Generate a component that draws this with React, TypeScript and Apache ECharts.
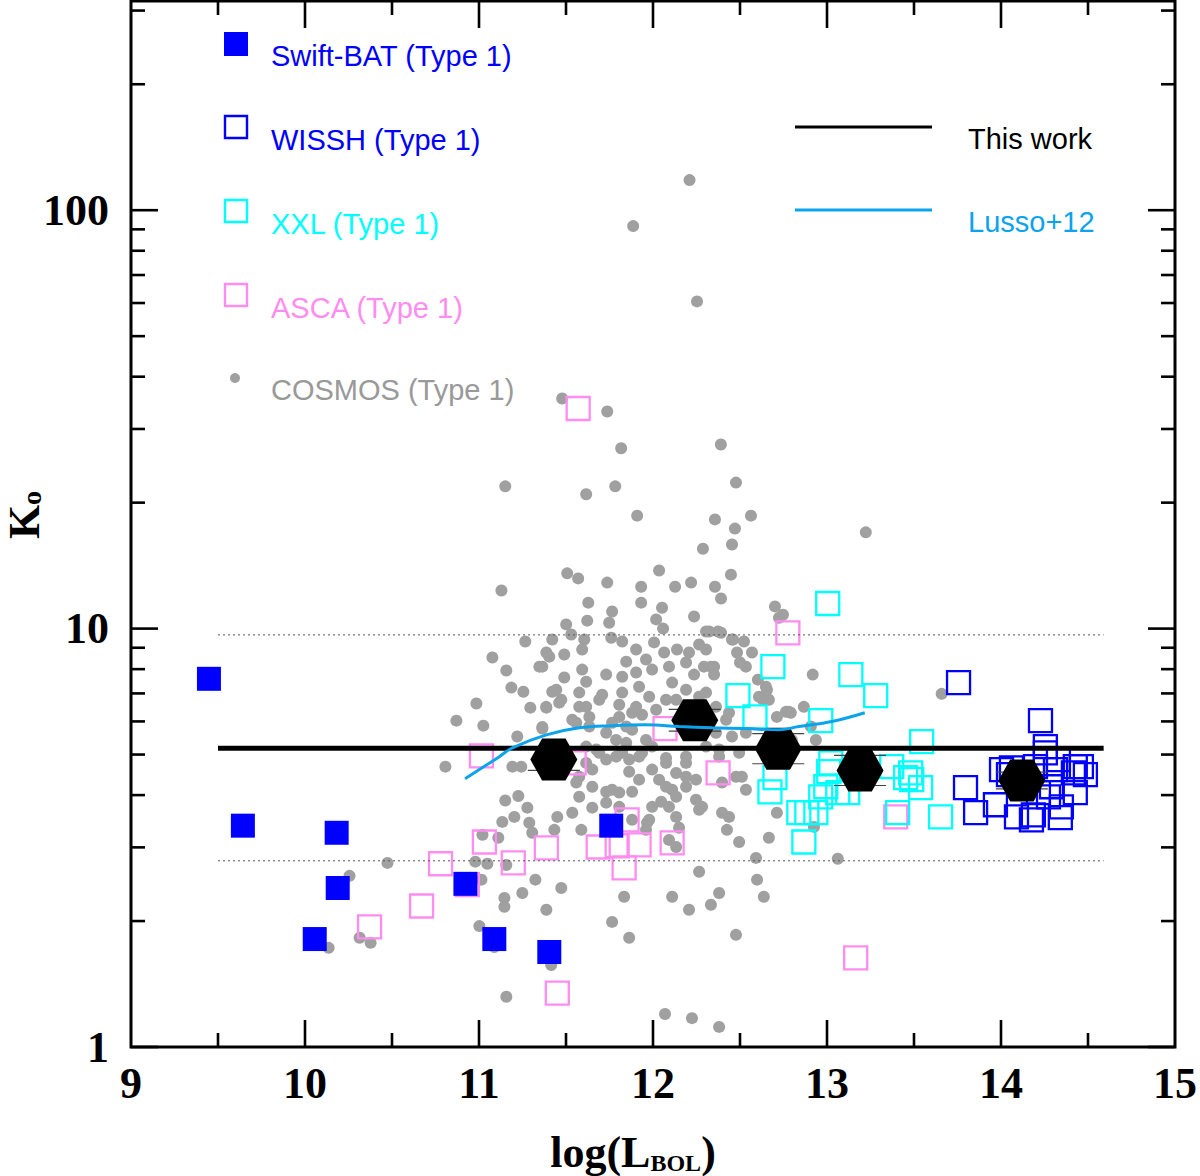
import { useEffect, useRef } from "react";
import * as echarts from "echarts";

// y values are log10(K_o); the axis labels show K_o itself
const X_MIN = 9;
const X_MAX = 15;
const Y_MIN = 0;
const Y_MAX = 2.5;

const xMajorTicks = [10, 11, 12, 13, 14];
const xMinorTicks = [9.5, 10.5, 11.5, 12.5, 13.5, 14.5];
const yMajorTicks = [1, 10, 100];
const yMinorTicks = [2, 3, 4, 5, 6, 7, 8, 9, 20, 30, 40, 50, 60, 70, 80, 90, 200, 300];

// [log L_BOL, log K_o]
const swiftBat = [
  [9.448, 0.88], [9.643, 0.529], [10.182, 0.512], [10.188, 0.38], [10.056, 0.258],
  [10.922, 0.39], [11.088, 0.258], [11.404, 0.227], [11.76, 0.529],
];

const wissh = [
  [13.756, 0.871], [14.227, 0.78], [14.255, 0.718], [14.06, 0.667], [14.043, 0.651],
  [14.198, 0.67], [14.33, 0.687], [14.462, 0.67], [14.485, 0.651], [14.416, 0.655],
  [13.796, 0.62], [13.854, 0.56], [13.968, 0.579], [14.089, 0.55], [14.186, 0.555],
  [14.341, 0.548], [14.273, 0.598], [14.427, 0.608], [14.29, 0.622], [14.215, 0.608],
  [14.347, 0.574], [14.175, 0.543], [14.255, 0.703], [14.427, 0.67], [14.003, 0.663],
  [14.313, 0.663],
];

const xxl = [
  [13.004, 1.06], [12.689, 0.909], [13.137, 0.89], [13.28, 0.84], [12.488, 0.84],
  [12.586, 0.789], [12.964, 0.78], [13.544, 0.73], [13.022, 0.679], [13.372, 0.67],
  [13.481, 0.655], [13.487, 0.639], [13.538, 0.62], [13.452, 0.644], [12.701, 0.644],
  [12.672, 0.61], [12.964, 0.598], [13.062, 0.608], [13.119, 0.608], [12.993, 0.622],
  [12.838, 0.56], [12.884, 0.56], [12.936, 0.56], [12.867, 0.49], [13.406, 0.56],
  [13.653, 0.55], [13.01, 0.658],
];

const asca = [
  [11.57, 1.526], [12.775, 0.99], [11.014, 0.696], [12.069, 0.761], [11.547, 0.679],
  [12.374, 0.655], [13.395, 0.55], [13.165, 0.213], [11.45, 0.129], [10.371, 0.287],
  [10.67, 0.337], [10.779, 0.438], [11.031, 0.49], [11.197, 0.44], [11.387, 0.476],
  [11.685, 0.478], [11.851, 0.543], [11.794, 0.481], [11.92, 0.483], [12.11, 0.488],
  [11.834, 0.428], [10.933, 0.388],
];

const cosmos = [
  [12.21, 2.072], [11.886, 1.962], [12.253, 1.782], [11.478, 1.55], [11.737, 1.519],
  [11.817, 1.431], [12.39, 1.44], [11.151, 1.34], [11.616, 1.321], [11.783, 1.34],
  [12.477, 1.349], [11.909, 1.27], [12.356, 1.261], [12.563, 1.27], [12.471, 1.239],
  [12.287, 1.191], [12.454, 1.201], [13.223, 1.23], [11.129, 1.091], [11.507, 1.132],
  [11.57, 1.12], [11.737, 1.11], [12.035, 1.139], [11.932, 1.1], [12.127, 1.1],
  [12.219, 1.11], [12.356, 1.1], [12.448, 1.129], [12.391, 1.072], [11.628, 1.062],
  [11.765, 1.041], [11.932, 1.062], [12.052, 1.05], [12.236, 1.029], [11.622, 1.019],
  [11.501, 1.01], [11.748, 1.014], [12.018, 1.022], [12.058, 1.0], [12.701, 1.053],
  [12.724, 1.026], [11.421, 0.974], [11.53, 0.986], [11.605, 0.974], [11.76, 0.978],
  [11.823, 0.969], [12.323, 0.993], [12.391, 0.99], [12.454, 0.974], [12.523, 0.969],
  [11.404, 0.933], [11.49, 0.938], [11.593, 0.95], [11.903, 0.95], [12.006, 0.967],
  [12.064, 0.943], [12.138, 0.95], [12.207, 0.943], [12.265, 0.962], [12.483, 0.943],
  [12.569, 0.943], [11.846, 0.921], [11.96, 0.926], [12.19, 0.919], [12.293, 0.909],
  [12.351, 0.909], [12.534, 0.909], [11.593, 0.902], [11.364, 0.909], [11.49, 0.883],
  [11.731, 0.89], [11.823, 0.885], [11.903, 0.895], [11.995, 0.902], [12.092, 0.909],
  [12.236, 0.89], [11.616, 0.873], [12.11, 0.871], [11.92, 0.861], [11.421, 0.849],
  [11.576, 0.847], [11.708, 0.842], [11.823, 0.847], [11.978, 0.837], [12.265, 0.837],
  [12.649, 0.861], [12.666, 0.83], [11.386, 0.813], [11.473, 0.83], [11.576, 0.813],
  [11.806, 0.818], [11.903, 0.813], [12.075, 0.83], [12.362, 0.813], [11.634, 0.789],
  [11.806, 0.789], [11.937, 0.794], [12.42, 0.782], [12.781, 0.801], [11.364, 0.765],
  [11.559, 0.775], [11.731, 0.751], [11.88, 0.758], [11.96, 0.734], [12.454, 0.742],
  [12.534, 0.751], [12.683, 0.734], [12.798, 0.734], [11.674, 0.711], [11.823, 0.703],
  [11.731, 0.687], [11.92, 0.694], [12.075, 0.691], [12.19, 0.679], [12.38, 0.694],
  [12.495, 0.703], [11.651, 0.663], [11.863, 0.658], [11.995, 0.663], [12.133, 0.655],
  [12.477, 0.646], [11.559, 0.632], [11.651, 0.622], [11.731, 0.61], [11.806, 0.608],
  [11.88, 0.61], [12.075, 0.622], [12.19, 0.622], [12.247, 0.639], [11.576, 0.598],
  [12.047, 0.586], [12.133, 0.598], [12.247, 0.591], [11.651, 0.572], [12.265, 0.567],
  [11.536, 0.56], [11.45, 0.55], [12.133, 0.55], [11.978, 0.543], [11.88, 0.543],
  [12.437, 0.55], [12.425, 0.519], [12.712, 0.56], [11.433, 0.519], [11.588, 0.519],
  [11.96, 0.519], [12.15, 0.524], [12.495, 0.49], [12.666, 0.5], [12.133, 0.478],
  [12.092, 0.495], [12.592, 0.452], [12.265, 0.419], [12.598, 0.4], [11.473, 0.38],
  [11.834, 0.359], [12.11, 0.359], [12.38, 0.368], [12.637, 0.359], [11.387, 0.328],
  [12.207, 0.328], [12.333, 0.34], [11.765, 0.299], [11.863, 0.261], [12.477, 0.268],
  [12.069, 0.079], [12.224, 0.069], [12.38, 0.048], [11.157, 0.12], [13.062, 0.45],
  [11.415, 0.196], [11.002, 0.289], [10.136, 0.237], [10.314, 0.261], [10.377, 0.249],
  [10.256, 0.409], [10.474, 0.44], [11.146, 0.356], [11.146, 0.335], [11.249, 0.368],
  [11.324, 0.4], [11.266, 0.969], [11.077, 0.931], [11.157, 0.9], [11.347, 0.909],
  [11.387, 0.943], [11.186, 0.859], [11.255, 0.849], [10.985, 0.821], [11.295, 0.811],
  [11.387, 0.811], [10.87, 0.78], [11.025, 0.768], [11.364, 0.761], [11.22, 0.742],
  [10.807, 0.67], [11.192, 0.67], [11.243, 0.67], [11.151, 0.589], [11.226, 0.6],
  [11.278, 0.572], [11.134, 0.538], [11.203, 0.55], [11.289, 0.536], [11.306, 0.512],
  [11.02, 0.507], [11.111, 0.5], [10.979, 0.443], [11.048, 0.438], [11.157, 0.435],
  [11.014, 0.4], [11.088, 0.239], [11.576, 0.646], [11.765, 0.615], [11.92, 0.639],
  [12.035, 0.639], [12.11, 0.615], [12.19, 0.646], [12.397, 0.632], [12.534, 0.615],
  [12.511, 0.646], [12.397, 0.56], [12.092, 0.574], [11.995, 0.574], [11.731, 0.584],
  [11.806, 0.574], [11.966, 0.536], [11.616, 0.718], [11.691, 0.703], [11.616, 0.679],
  [11.788, 0.694], [11.863, 0.687], [11.937, 0.703], [11.788, 0.734], [11.846, 0.727],
  [11.995, 0.718], [12.075, 0.679], [12.19, 0.694], [12.305, 0.718], [12.38, 0.711],
  [12.362, 0.751], [12.649, 0.694], [12.018, 0.806], [12.133, 0.83], [12.19, 0.854],
  [12.305, 0.847], [12.437, 0.799], [12.609, 0.837], [12.764, 0.801], [11.691, 0.83],
  [11.88, 0.799], [11.616, 0.813], [11.461, 0.823], [11.444, 0.854], [11.536, 0.782],
  [11.634, 0.766], [11.765, 0.775], [11.846, 0.766], [12.305, 0.993], [12.374, 0.993],
  [12.46, 0.974], [12.305, 0.95], [12.5, 0.919], [12.333, 0.909], [12.351, 0.89],
  [12.918, 0.89], [12.603, 0.878], [12.655, 0.854], [12.632, 0.83], [12.792, 0.799],
  [12.867, 0.813], [12.907, 0.766], [12.936, 0.734], [12.712, 0.789], [12.282, 0.574],
  [13.659, 0.844], [12.925, 0.526], [12.747, 1.033],
];

// [log L_BOL, log K_o, error half-height in dex]
const thisWork = [
  [11.43, 0.687, 0.026], [12.24, 0.781, 0.026], [12.72, 0.713, 0.036],
  [13.19, 0.661, 0.036], [14.12, 0.637, 0.02],
];

const lusso12 = [
  [10.92, 0.641], [11.002, 0.663], [11.117, 0.694], [11.192, 0.715], [11.387, 0.746],
  [11.576, 0.763], [11.765, 0.768], [11.96, 0.77], [12.15, 0.766], [12.339, 0.763],
  [12.534, 0.761], [12.723, 0.758], [12.838, 0.766], [13.028, 0.778], [13.217, 0.799],
];

const fitRange = [9.5, 14.59];
const fitLevel = 0.714;
const fitBand = [0.985, 0.445];

const BLUE = "#0000ff";
const CYAN = "#00ffff";
const PINK = "#ff8cf0";
const GRAY = "#a0a0a0";
const LUSSO = "#0ba3ec";
const SANS = '"Liberation Sans", Arial, sans-serif';
const SERIF = '"Liberation Serif", "Times New Roman", serif';

const HEXAGON = "path://M0,50 L25,0 L75,0 L100,50 L75,100 L25,100 Z";

function openSquares(name: string, data: number[][], color: string, z: number) {
  return {
    name,
    type: "scatter",
    data,
    symbol: "rect",
    symbolSize: 23,
    z,
    silent: true,
    itemStyle: { color: "rgba(0,0,0,0)", borderColor: color, borderWidth: 2.3, opacity: 1 },
  };
}

function legendText(text: string, x: number, y: number, fill: string) {
  return {
    type: "text",
    x,
    y,
    style: {
      text,
      fill,
      font: `29px ${SANS}`,
      align: "left",
      verticalAlign: "middle",
      textAlign: "left",
      textVerticalAlign: "middle",
    },
  };
}

export default function App() {
  const ref = useRef<HTMLDivElement>(null);

  useEffect(() => {
    if (!ref.current) return;
    const chart = echarts.init(ref.current, null, { renderer: "svg" });

    const tickData = [
      ...xMajorTicks.map((v) => [0, v, 27]),
      ...xMinorTicks.map((v) => [0, v, 14]),
      ...yMajorTicks.map((k) => [1, Math.log10(k), 27]),
      ...yMinorTicks.map((k) => [1, Math.log10(k), 14]),
    ];

    chart.setOption({
      animation: false,
      backgroundColor: "#fff",
      grid: {
        left: 131,
        right: 23,
        top: 1,
        bottom: 129,
        show: true,
        borderColor: "#000",
        borderWidth: 3,
      },
      xAxis: {
        type: "value",
        min: X_MIN,
        max: X_MAX,
        interval: 1,
        axisLine: { show: false },
        axisTick: { show: false },
        splitLine: { show: false },
        axisLabel: { margin: 14, fontFamily: SERIF, fontSize: 44, fontWeight: "bold", color: "#000" },
      },
      yAxis: {
        type: "value",
        min: Y_MIN,
        max: Y_MAX,
        interval: 1,
        axisLine: { show: false },
        axisTick: { show: false },
        splitLine: { show: false },
        axisLabel: {
          margin: 22,
          fontFamily: SERIF,
          fontSize: 44,
          fontWeight: "bold",
          color: "#000",
          formatter: (v: number) => (v > 2.01 ? "" : String(Math.round(Math.pow(10, v)))),
        },
      },
      series: [
        {
          type: "custom",
          name: "ticks",
          silent: true,
          z: 20,
          data: tickData,
          renderItem: (_p: any, api: any) => {
            const kind = api.value(0);
            const v = api.value(1);
            const len = api.value(2);
            const style = { stroke: "#000", lineWidth: 2.6 };
            if (kind === 0) {
              const b = api.coord([v, Y_MIN]);
              const t = api.coord([v, Y_MAX]);
              return {
                type: "group",
                children: [
                  { type: "line", shape: { x1: b[0], y1: b[1], x2: b[0], y2: b[1] - len }, style },
                  { type: "line", shape: { x1: t[0], y1: t[1], x2: t[0], y2: t[1] + len }, style },
                ],
              };
            }
            const l = api.coord([X_MIN, v]);
            const r = api.coord([X_MAX, v]);
            return {
              type: "group",
              children: [
                { type: "line", shape: { x1: l[0], y1: l[1], x2: l[0] + len, y2: l[1] }, style },
                { type: "line", shape: { x1: r[0], y1: r[1], x2: r[0] - len, y2: r[1] }, style },
              ],
            };
          },
        },
        {
          name: "COSMOS (Type 1)",
          type: "scatter",
          data: cosmos,
          symbol: "circle",
          symbolSize: 12,
          z: 2,
          silent: true,
          itemStyle: { color: GRAY, opacity: 1 },
        },
        openSquares("ASCA (Type 1)", asca, PINK, 3),
        openSquares("XXL (Type 1)", xxl, CYAN, 4),
        openSquares("WISSH (Type 1)", wissh, BLUE, 5),
        {
          name: "Swift-BAT (Type 1)",
          type: "scatter",
          data: swiftBat,
          symbol: "rect",
          symbolSize: 24,
          z: 6,
          silent: true,
          itemStyle: { color: BLUE, opacity: 1 },
        },
        {
          type: "custom",
          name: "errors",
          silent: true,
          z: 7,
          data: thisWork,
          encode: { x: 0, y: 1 },
          renderItem: (_p: any, api: any) => {
            const x = api.value(0);
            const y = api.value(1);
            const e = api.value(2);
            const top = api.coord([x, y + e]);
            const bot = api.coord([x, y - e]);
            const style = { stroke: "#444", lineWidth: 1.2 };
            return {
              type: "group",
              children: [
                { type: "line", shape: { x1: top[0] - 26, y1: top[1], x2: top[0] + 26, y2: top[1] }, style },
                { type: "line", shape: { x1: bot[0] - 26, y1: bot[1], x2: bot[0] + 26, y2: bot[1] }, style },
              ],
            };
          },
        },
        {
          name: "This work",
          type: "scatter",
          data: thisWork.map((d) => [d[0], d[1]]),
          symbol: HEXAGON,
          symbolSize: [47, 42],
          z: 8,
          silent: true,
          itemStyle: { color: "#000", opacity: 1 },
        },
        ...fitBand.map((b) => ({
          type: "line",
          data: fitRange.map((x) => [x, b]),
          symbol: "none",
          silent: true,
          z: 9,
          lineStyle: { color: "#555", width: 1, type: [2, 3] },
        })),
        {
          name: "This work fit",
          type: "line",
          data: fitRange.map((x) => [x, fitLevel]),
          symbol: "none",
          silent: true,
          z: 9,
          lineStyle: { color: "#000", width: 5 },
        },
        {
          name: "Lusso+12",
          type: "line",
          data: lusso12,
          symbol: "none",
          smooth: 0.4,
          silent: true,
          z: 10,
          lineStyle: { color: LUSSO, width: 3 },
        },
      ],
      graphic: [
        { type: "rect", shape: { x: 224, y: 32, width: 24, height: 24 }, style: { fill: BLUE } },
        { type: "rect", shape: { x: 225, y: 116, width: 22, height: 22 }, style: { fill: "none", stroke: BLUE, lineWidth: 2.4 } },
        { type: "rect", shape: { x: 225, y: 200, width: 22, height: 22 }, style: { fill: "none", stroke: CYAN, lineWidth: 2.4 } },
        { type: "rect", shape: { x: 225, y: 284, width: 22, height: 22 }, style: { fill: "none", stroke: PINK, lineWidth: 2.4 } },
        { type: "circle", shape: { cx: 235, cy: 378, r: 5 }, style: { fill: GRAY } },
        legendText("Swift-BAT (Type 1)", 271, 56, BLUE),
        legendText("WISSH (Type 1)", 271, 140, BLUE),
        legendText("XXL (Type 1)", 271, 224, CYAN),
        legendText("ASCA (Type 1)", 271, 308, PINK),
        legendText("COSMOS (Type 1)", 271, 390, "#999"),
        { type: "line", shape: { x1: 795, y1: 127, x2: 932, y2: 127 }, style: { stroke: "#000", lineWidth: 3 } },
        { type: "line", shape: { x1: 795, y1: 210, x2: 932, y2: 210 }, style: { stroke: LUSSO, lineWidth: 3 } },
        legendText("This work", 968, 139, "#000"),
        legendText("Lusso+12", 968, 222, LUSSO),
        {
          type: "text",
          x: 633,
          y: 1152,
          style: {
            text: "{m|log(L}{s|BOL}{m|)}",
            align: "center",
            verticalAlign: "middle",
            textAlign: "center",
            textVerticalAlign: "middle",
            rich: {
              m: { fontFamily: SERIF, fontSize: 44, fontWeight: "bold", fill: "#000", color: "#000" },
              s: { fontFamily: SERIF, fontSize: 24, fontWeight: "bold", fill: "#000", color: "#000", padding: [22, 0, 0, 0] },
            },
          },
        },
        {
          type: "text",
          x: 24,
          y: 515,
          rotation: Math.PI / 2,
          style: {
            text: "{k|K}{s|o}",
            align: "center",
            verticalAlign: "middle",
            textAlign: "center",
            textVerticalAlign: "middle",
            rich: {
              k: { fontFamily: SERIF, fontSize: 44, fontWeight: "bold", fill: "#000", color: "#000" },
              s: { fontFamily: SERIF, fontSize: 28, fontWeight: "bold", fill: "#000", color: "#000", padding: [14, 0, 0, 0] },
            },
          },
        },
      ],
    });

    return () => chart.dispose();
  }, []);

  return (
    <div
      ref={ref}
      style={{ position: "absolute", left: 0, top: 0, width: 1200, height: 1176, background: "#fff" }}
    />
  );
}
